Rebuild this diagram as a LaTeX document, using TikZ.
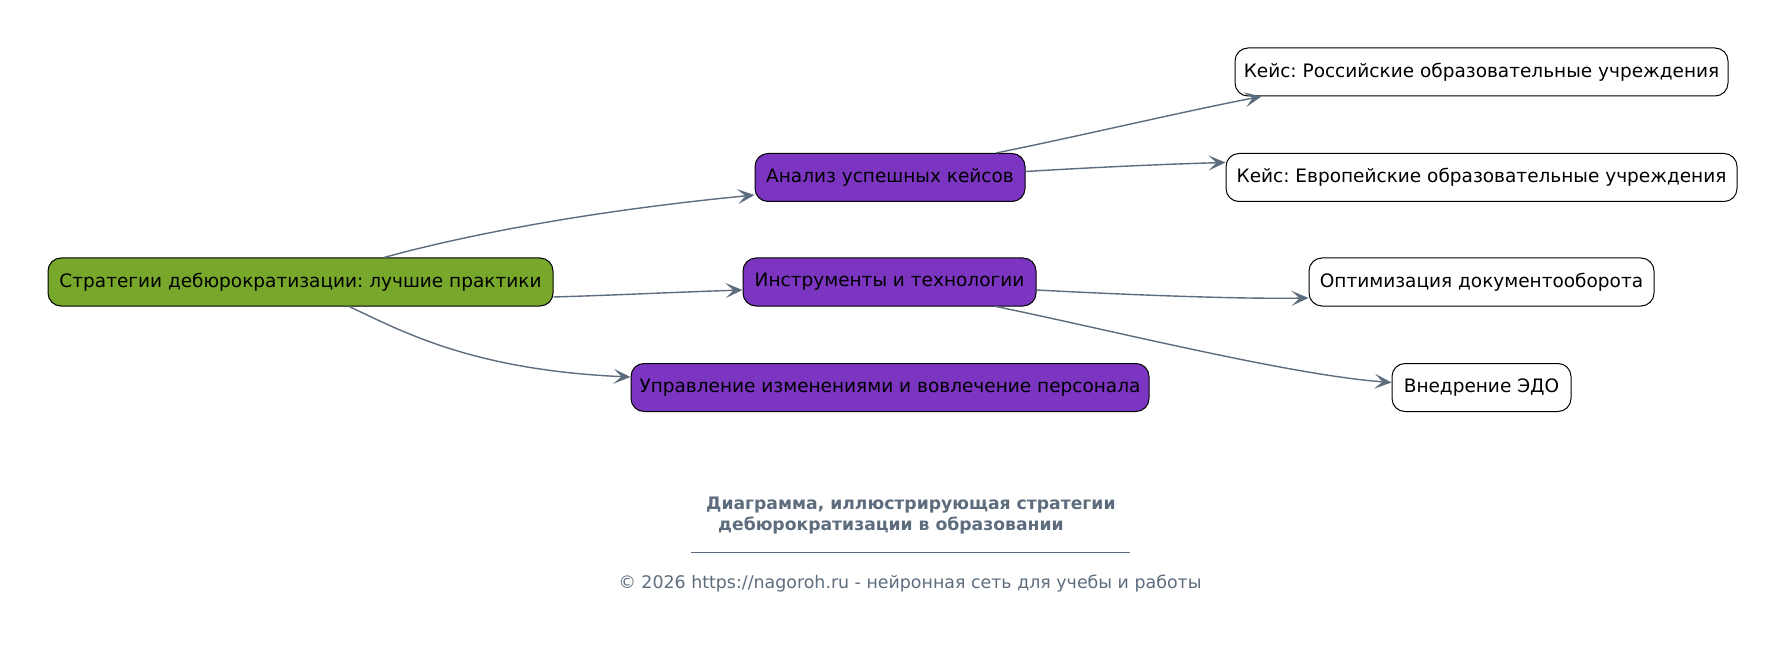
\documentclass[tikz,border=0pt]{standalone}
\usepackage{fontspec}
\setmainfont{DejaVu Sans}
\usetikzlibrary{arrows.meta}
\definecolor{rootgreen}{HTML}{77A82B}
\definecolor{midpurple}{HTML}{7B35C1}
\definecolor{edgegray}{HTML}{5D6D7E}
\tikzset{
  box/.style={draw=black, line width=1pt, rounded corners=13pt, minimum height=48pt,
    inner sep=0pt, font=\fontsize{18.5}{22}\selectfont\frenchspacing, text=black},
  rootbox/.style={box, fill=rootgreen},
  midbox/.style={box, fill=midpurple},
  leafbox/.style={box, fill=white},
  conn/.style={draw=edgegray, line width=1.4pt,
    -{Stealth[length=17pt, width=15pt, inset=8pt]}},
  titletext/.style={text=edgegray, font=\fontsize{17.2}{20}\selectfont\bfseries\frenchspacing, inner sep=0pt},
  foottext/.style={text=edgegray, font=\fontsize{17.4}{20}\selectfont\frenchspacing, inner sep=0pt}
}
\begin{document}
\begin{tikzpicture}[x=1pt, y=-1pt]
\useasboundingbox[fill=white] (0,0) rectangle (1785,668);

\node[rootbox, minimum width=505pt] (root) at (300.5,282) {Стратегии дебюрократизации: лучшие практики};
\node[midbox, minimum width=270pt] (anal) at (890,177.5) {Анализ успешных кейсов};
\node[midbox, minimum width=293pt] (tools) at (889.5,282) {Инструменты и технологии};
\node[midbox, minimum width=518pt] (chg) at (890,387.5) {Управление изменениями и вовлечение персонала};
\node[leafbox, minimum width=493pt] (rus) at (1481.5,72) {Кейс: Российские образовательные учреждения};
\node[leafbox, minimum width=511pt] (eur) at (1481.5,177.5) {Кейс: Европейские образовательные учреждения};
\node[leafbox, minimum width=345pt] (opt) at (1481.5,282) {Оптимизация документооборота};
\node[leafbox, minimum width=179pt] (edo) at (1481.5,387.5) {Внедрение ЭДО};

\draw[conn] ([xshift=83.5pt]root.north) .. controls (440,242) and (560,214) .. ([yshift=-17.5pt]anal.west);
\draw[conn] ([yshift=-15pt]root.east) .. controls (620,295) and (680,292) .. ([yshift=-8pt]tools.west);
\draw[conn] ([xshift=48.5pt]root.south) .. controls (400,330) and (470,370) .. ([yshift=10.5pt]chg.west);

\draw[conn] ([xshift=106pt]anal.north) .. controls (1080,136) and (1190,110) .. ([xshift=-220pt]rus.south);
\draw[conn] ([yshift=6pt]anal.east) .. controls (1100,167) and (1170,164) .. ([yshift=15pt]eur.west);

\draw[conn] ([yshift=-8pt]tools.east) .. controls (1150,296) and (1250,299) .. ([yshift=-16pt]opt.west);
\draw[conn] ([xshift=106.5pt]tools.south) .. controls (1110,330) and (1290,375) .. ([yshift=5pt]edo.west);

\node[titletext, anchor=west] (t1) at (706,505) {Диаграмма, иллюстрирующая стратегии};
\node[titletext, anchor=west] (t2) at (718,525) {дебюрократизации в образовании};
\draw[edgegray, line width=0.8pt] (691,552) -- (1130,552);
\node[foottext] (foot) at (910,584) {© 2026 https://nagoroh.ru - нейронная сеть для учебы и работы};
\end{tikzpicture}
\end{document}
